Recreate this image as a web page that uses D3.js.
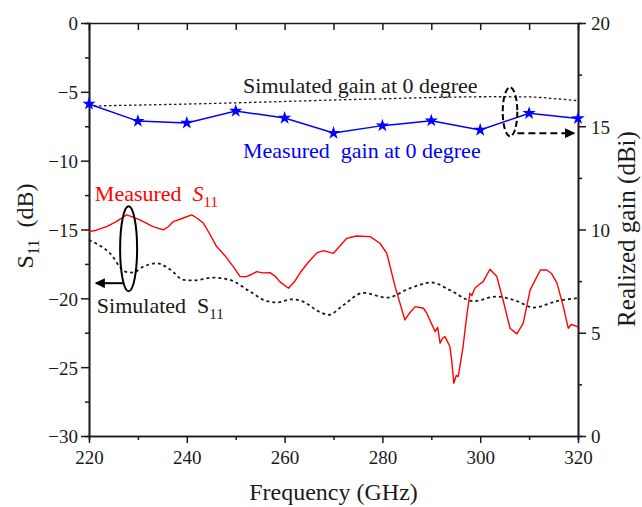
<!DOCTYPE html>
<html>
<head>
<meta charset="utf-8">
<script src="https://cdn.jsdelivr.net/npm/d3@7"></script>
<style>
    body { margin: 0; background: #ffffff; }
    svg  { display: block; }
</style>
</head>
<body>
<div id="chart"></div>
<script>
// ---- data ----
let freqTicks      = [220, 240, 260, 280, 300, 320];
let s11Ticks       = [0, -5, -10, -15, -20, -25, -30];
let gainTicks      = [0, 5, 10, 15, 20];

// measured realized gain (dBi), one point every 10 GHz
let gainFreq       = [220, 230, 240, 250, 260, 270, 280, 290, 300, 310, 320];
let gainMeasured   = [16.08, 15.25, 15.16, 15.74, 15.40, 14.67, 15.03, 15.27, 14.82, 15.63, 15.38];

// simulated gain (dBi)
let simGainFreq    = [220, 231, 241, 251, 260, 270, 280, 290, 302, 310, 316, 320];
let simGainVal     = [15.98, 16.03, 16.08, 16.14, 16.20, 16.27, 16.33, 16.39, 16.43, 16.42, 16.32, 16.24];

// simulated S11 (dB)
let simS11Freq     = [220, 224.3, 227.4, 229, 231.1, 233.8, 236.6, 239.3, 241.3, 245.4, 248.8, 252.9, 256.3, 258.4, 261.5, 263.8, 267.2, 269, 272, 276.1, 280.9, 285.6, 290.1, 293.8, 298.6, 303.4, 307.5, 310.9, 315.7, 320];
let simS11Val      = [-15.76, -16.73, -18.06, -18.13, -17.70, -17.45, -17.90, -18.66, -18.70, -18.50, -18.66, -19.50, -20.20, -20.30, -20.07, -20.24, -21.00, -21.20, -20.50, -19.60, -19.95, -19.27, -18.85, -19.40, -20.20, -19.87, -20.20, -20.67, -20.20, -19.98];

// measured S11 (dB)
let measS11Freq    = [220, 221.5, 223.6, 225.5, 227.7, 229, 230.4, 232, 233.1, 235.2, 236.2, 237.2, 239, 241, 242.2, 243.4, 244.5, 246.1, 247.8, 249.5, 250.9, 252.2, 253.3, 254.3, 255.5, 257, 258.1, 259, 260.8, 262, 263.1, 264.8, 266.6, 267.9, 270, 271.3, 272.7, 274.7, 277.5, 279.5, 280.9, 282.6, 284.6, 285.5, 286.7, 288.4, 289.1, 289.7, 290.8, 291.3, 291.8, 292.3, 292.8, 293.8, 294.2, 294.6, 295.1, 295.5, 296.5, 297.2, 297.9, 298.3, 298.9, 299.6, 300.6, 302, 303.4, 304.8, 306.1, 307.5, 308.8, 310.2, 312.3, 313.6, 314.6, 315.7, 317, 318, 318.6, 319, 320];
let measS11Val     = [-15.15, -15.05, -14.79, -14.45, -13.94, -14.10, -14.30, -14.60, -14.79, -15.03, -14.80, -14.43, -14.20, -13.94, -14.20, -14.55, -15.20, -16.24, -16.90, -17.70, -18.42, -18.42, -18.25, -18.06, -18.15, -18.13, -18.40, -18.79, -19.27, -18.80, -18.18, -17.40, -16.70, -16.53, -16.73, -16.20, -15.64, -15.47, -15.52, -16.00, -16.73, -19.15, -21.57, -21.10, -20.60, -20.72, -21.10, -21.57, -22.42, -22.10, -23.26, -22.90, -22.78, -23.50, -24.60, -26.17, -25.60, -25.68, -23.50, -21.40, -19.63, -19.80, -19.27, -19.05, -18.79, -17.89, -18.42, -20.30, -22.17, -22.58, -21.80, -19.40, -17.94, -17.94, -18.20, -18.90, -20.60, -22.17, -21.90, -21.93, -22.10];

// ---- layout ----
let W = 642, H = 507;
let mL = 89, mR = 64, mT = 23, mB = 71;
let pW = W - mL - mR, pH = H - mT - mB;
let serif = "'Liberation Serif', 'Times New Roman', serif";

let xScale  = d3.scaleLinear().domain([220, 320]).range([0, pW]);
let yLeft   = d3.scaleLinear().domain([-30, 0]).range([pH, 0]);
let yRight  = d3.scaleLinear().domain([0, 20]).range([pH, 0]);

let svg = d3.select("#chart")
            .append("svg")
                .attr("width",  W)
                .attr("height", H)
                .style("font-family", serif)
;

let defs = svg.append("defs");
defs.append("marker")
        .attr("id", "arrowHead")
        .attr("viewBox", "0 0 10 10")
        .attr("refX", 9)
        .attr("refY", 5)
        .attr("markerWidth", 5)
        .attr("markerHeight", 5)
        .attr("markerUnits", "strokeWidth")
        .attr("orient", "auto")
    .append("path")
        .attr("d", "M0,0 L10,5 L0,10 Z")
        .attr("fill", "#000000")
;

let g = svg.append("g")
            .attr("transform", "translate(" + mL + "," + mT + ")");

// ---- axes ----
function styleAxis(sel){
    sel.select(".domain").attr("stroke", "#1a1a1a").attr("stroke-width", 1.6);
    sel.selectAll(".tick line").attr("stroke", "#1a1a1a").attr("stroke-width", 1.5);
    sel.selectAll(".tick text")
        .attr("fill", "#1a1a1a")
        .style("font-family", serif)
        .style("font-size", "19px");
}

// minor ticks first, no labels
let minorLeft = d3.range(-27.5, 0, 5);
g.append("g")
    .call(d3.axisLeft(yLeft).tickValues(minorLeft).tickSize(4).tickFormat(""))
    .call(styleAxis);
let minorRight = d3.range(2.5, 20, 5);
g.append("g")
    .attr("transform", "translate(" + pW + ",0)")
    .call(d3.axisRight(yRight).tickValues(minorRight).tickSize(4).tickFormat(""))
    .call(styleAxis);
let minorBottom = d3.range(230, 320, 20);
g.append("g")
    .attr("transform", "translate(0," + pH + ")")
    .call(d3.axisBottom(xScale).tickValues(minorBottom).tickSize(4).tickFormat(""))
    .call(styleAxis);

// top frame with inward ticks
g.append("g")
    .call(d3.axisBottom(xScale).tickValues(d3.range(230, 320, 10)).tickSizeOuter(0).tickSize(7).tickFormat(""))
    .call(styleAxis);

let axL = g.append("g")
    .call(d3.axisLeft(yLeft).tickValues(s11Ticks).tickSize(8).tickSizeOuter(0).tickPadding(3).tickFormat(d3.format("d")))
    .call(styleAxis);
axL.selectAll(".tick text").attr("dy", "0.36em");

let axR = g.append("g")
    .attr("transform", "translate(" + pW + ",0)")
    .call(d3.axisRight(yRight).tickValues(gainTicks).tickSize(8).tickSizeOuter(0).tickPadding(5))
    .call(styleAxis);
axR.selectAll(".tick text").attr("dy", "0.36em");

let axB = g.append("g")
    .attr("transform", "translate(0," + pH + ")")
    .call(d3.axisBottom(xScale).tickValues(freqTicks).tickSize(7).tickSizeOuter(0).tickPadding(8))
    .call(styleAxis);

// ---- lines ----
let lineLeft = d3.line()
    .x((d)=>{ return xScale(d[0]); })
    .y((d)=>{ return yLeft(d[1]); });
let lineRight = d3.line()
    .x((d)=>{ return xScale(d[0]); })
    .y((d)=>{ return yRight(d[1]); });
let smoothRight = d3.line()
    .curve(d3.curveMonotoneX)
    .x((d)=>{ return xScale(d[0]); })
    .y((d)=>{ return yRight(d[1]); });
let smoothLeft = d3.line()
    .curve(d3.curveMonotoneX)
    .x((d)=>{ return xScale(d[0]); })
    .y((d)=>{ return yLeft(d[1]); });

g.append("path")
    .datum(d3.zip(simGainFreq, simGainVal))
    .attr("d", smoothRight)
    .attr("fill", "none")
    .attr("stroke", "#1a1a1a")
    .attr("stroke-width", 1.3)
    .attr("stroke-dasharray", "2.5,2.5")
;

g.append("path")
    .datum(d3.zip(simS11Freq, simS11Val))
    .attr("d", smoothLeft)
    .attr("fill", "none")
    .attr("stroke", "#1a1a1a")
    .attr("stroke-width", 1.8)
    .attr("stroke-dasharray", "3,3")
;

g.append("path")
    .datum(d3.zip(measS11Freq, measS11Val))
    .attr("d", lineLeft)
    .attr("fill", "none")
    .attr("stroke", "#ff0000")
    .attr("stroke-width", 1.4)
    .attr("stroke-linejoin", "round")
;

g.append("path")
    .datum(d3.zip(gainFreq, gainMeasured))
    .attr("d", lineRight)
    .attr("fill", "none")
    .attr("stroke", "#0000ff")
    .attr("stroke-width", 1.5)
;

g.selectAll(".gainStar")
    .data(d3.zip(gainFreq, gainMeasured))
    .enter()
        .append("path")
            .attr("class", "gainStar")
            .attr("d", d3.symbol().type(d3.symbolStar).size(55))
            .attr("transform", (d)=>{ return "translate(" + xScale(d[0]) + "," + yRight(d[1]) + ")"; })
            .attr("fill", "#0000ff")
;

// ---- annotations ----
function addLabel(txt, sub, fx, fy, colour, italicS){
    let t = g.append("text")
                .attr("x", xScale(fx))
                .attr("y", yLeft(fy))
                .attr("fill", colour)
                .style("font-size", "22px")
                .attr("xml:space", "preserve");
    t.append("tspan").text(txt);
    if( sub ){
        t.append("tspan").text("S").style("font-style", italicS ? "italic" : "normal");
        t.append("tspan").text("11").attr("dy", 6).style("font-size", "15px");
    }
}
addLabel("Simulated gain at 0 degree",   false, 251.5, -5.1,  "#1a1a1a", false);
addLabel("Measured  gain at 0 degree",   false, 251.5, -9.8,  "#0000ff", false);
addLabel("Measured  ",                   true,  221.2, -12.95, "#ff0000", true);
addLabel("Simulated  ",                  true,  221.6, -21.05, "#1a1a1a", false);

// solid ellipse + arrow to left axis
g.append("ellipse")
    .attr("cx", xScale(228.1))
    .attr("cy", yLeft(-16.4))
    .attr("rx", 8.5)
    .attr("ry", 42.5)
    .attr("fill", "none")
    .attr("stroke", "#000000")
    .attr("stroke-width", 2)
;
g.append("line")
    .attr("x1", xScale(227)).attr("y1", yLeft(-18.9))
    .attr("x2", xScale(221.4)).attr("y2", yLeft(-18.9))
    .attr("stroke", "#000000")
    .attr("stroke-width", 2)
    .attr("marker-end", "url(#arrowHead)")
;

// dashed ellipse + arrow to right axis
g.append("ellipse")
    .attr("cx", xScale(306.1))
    .attr("cy", yLeft(-6.45))
    .attr("rx", 7.3)
    .attr("ry", 24.5)
    .attr("fill", "none")
    .attr("stroke", "#000000")
    .attr("stroke-width", 2)
    .attr("stroke-dasharray", "6,3")
;
g.append("line")
    .attr("x1", xScale(307.6)).attr("y1", yLeft(-8.0))
    .attr("x2", xScale(319.2)).attr("y2", yLeft(-8.0))
    .attr("stroke", "#000000")
    .attr("stroke-width", 2)
    .attr("stroke-dasharray", "7,4")
    .attr("marker-end", "url(#arrowHead)")
;

// ---- axis titles ----
let yTitle = svg.append("text")
    .attr("transform", "translate(33,226) rotate(-90)")
    .attr("text-anchor", "middle")
    .attr("fill", "#1a1a1a")
    .style("font-size", "24px")
    .attr("xml:space", "preserve");
yTitle.append("tspan").text("S");
yTitle.append("tspan").text("11").attr("dy", 6).style("font-size", "16px");
yTitle.append("tspan").text("  (dB)").attr("dy", -6);

svg.append("text")
    .attr("transform", "translate(635,229) rotate(-90)")
    .attr("text-anchor", "middle")
    .attr("fill", "#1a1a1a")
    .style("font-size", "25px")
    .text("Realized gain (dBi)")
;

svg.append("text")
    .attr("x", mL + pW / 2)
    .attr("y", 500)
    .attr("text-anchor", "middle")
    .attr("fill", "#1a1a1a")
    .style("font-size", "24px")
    .text("Frequency (GHz)")
;
</script>
</body>
</html>
